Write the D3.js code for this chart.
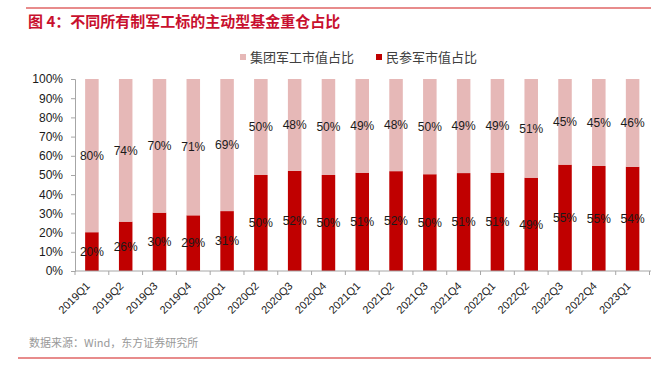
<!DOCTYPE html>
<html>
<head>
<meta charset="utf-8">
<script src="https://cdn.jsdelivr.net/npm/d3@7"></script>
<style>
  body { margin: 0; background: #fff; }
  svg { display: block; font-family: "Liberation Sans", Arial, "Noto Sans CJK SC", sans-serif; }
</style>
</head>
<body>
<svg id="chart" width="651" height="369"></svg>
<script>
// quarters
const quarters = ['2019Q1', '2019Q2', '2019Q3', '2019Q4', '2020Q1', '2020Q2', '2020Q3', '2020Q4',
    '2021Q1', '2021Q2', '2021Q3', '2021Q4', '2022Q1', '2022Q2', '2022Q3', '2022Q4', '2023Q1'];
// 民参军市值占比 (%)
const civilShare = [20.2, 25.7, 30.4, 29.0, 31.2, 50.0, 52.2, 50.0, 51.2, 52.0, 50.4, 51.0, 51.2, 48.6, 55.4, 54.7, 54.3];
// 集团军工市值占比 (%)
const groupShare = [79.8, 74.3, 69.6, 71.0, 68.8, 50.0, 47.8, 50.0, 48.8, 48.0, 49.6, 49.0, 48.8, 51.4, 44.6, 45.3, 45.7];
const yTicks = [0, 10, 20, 30, 40, 50, 60, 70, 80, 90, 100];

const seriesNames = ['集团军工市值占比', '民参军市值占比'];
const seriesColors = ['#e6b8b7', '#c00000'];

const svg = d3.select('#chart');
const margin = { top: 79, right: 1.5, bottom: 98, left: 75 };
const width = 651, height = 369;

const x = d3.scaleBand()
    .domain(quarters)
    .range([margin.left, width - margin.right])
    .paddingInner(0.6)
    .paddingOuter(0.3);

const y = d3.scaleLinear()
    .domain([0, 100])
    .range([height - margin.bottom, margin.top]);

// top rule + title
svg.append('line')
    .attr('x1', 26).attr('x2', 651).attr('y1', 8).attr('y2', 8)
    .style('stroke', '#e06666').style('stroke-width', 1.5);

svg.append('text')
    .attr('x', 28).attr('y', 27)
    .style('font-size', '15px').style('font-weight', 'bold')
    .style('font-family', '"Noto Sans CJK SC", sans-serif')
    .style('fill', '#c8102e')
    .text('图 4：不同所有制军工标的主动型基金重仓占比');

// legend
const legend = svg.append('g').attr('class', 'legend');
const legendX = [240, 376];
seriesNames.forEach((name, i) => {
    legend.append('rect')
        .attr('x', legendX[i]).attr('y', 54)
        .attr('width', 6).attr('height', 6)
        .style('fill', seriesColors[i]);
    legend.append('text')
        .attr('x', legendX[i] + 10).attr('y', 57)
        .attr('dy', '0.35em')
        .style('font-size', '13px')
        .style('font-family', '"Noto Sans CJK SC", sans-serif')
        .style('fill', '#404040')
        .text(name);
});

// bars
const data = quarters.map((q, i) => ({ q, civil: civilShare[i], group: groupShare[i] }));

const bars = svg.append('g').selectAll('g.bar')
    .data(data)
    .enter()
    .append('g')
    .attr('class', 'bar');

bars.append('rect')
    .attr('x', d => x(d.q))
    .attr('width', x.bandwidth())
    .attr('y', d => y(d.civil))
    .attr('height', d => y(0) - y(d.civil))
    .style('fill', seriesColors[1]);

bars.append('rect')
    .attr('x', d => x(d.q))
    .attr('width', x.bandwidth())
    .attr('y', d => y(d.civil + d.group))
    .attr('height', d => y(d.civil) - y(d.civil + d.group))
    .style('fill', seriesColors[0]);

// value labels
bars.append('text')
    .attr('x', d => x(d.q) + x.bandwidth() / 2)
    .attr('y', d => y(d.civil / 2))
    .attr('dy', '0.35em')
    .attr('text-anchor', 'middle')
    .style('font-size', '12px')
    .style('fill', '#1a1a1a')
    .text(d => Math.round(d.civil) + '%');

bars.append('text')
    .attr('x', d => x(d.q) + x.bandwidth() / 2)
    .attr('y', d => y(d.civil + d.group / 2))
    .attr('dy', '0.35em')
    .attr('text-anchor', 'middle')
    .style('font-size', '12px')
    .style('fill', '#1a1a1a')
    .text(d => Math.round(d.group) + '%');

// y axis
const yAxis = svg.append('g')
    .attr('transform', `translate(${margin.left},0)`)
    .call(d3.axisLeft(y).tickValues(yTicks).tickFormat(d => d + '%').tickSize(4).tickPadding(8));
yAxis.select('.domain').style('stroke', '#a6a6a6');
yAxis.selectAll('.tick line').style('stroke', '#a6a6a6');
yAxis.selectAll('.tick text')
    .style('font-size', '12px')
    .style('font-family', '"Liberation Sans", Arial, sans-serif')
    .style('fill', '#1a1a1a');

// x axis: line with ticks on category boundaries
const xAxis = svg.append('g');
xAxis.append('line')
    .attr('x1', margin.left).attr('x2', width)
    .attr('y1', y(0)).attr('y2', y(0))
    .style('stroke', '#a6a6a6');
const step = x.step();
xAxis.selectAll('line.tick')
    .data(d3.range(quarters.length + 1))
    .enter()
    .append('line')
    .attr('class', 'tick')
    .attr('x1', i => margin.left + i * step)
    .attr('x2', i => margin.left + i * step)
    .attr('y1', y(0)).attr('y2', y(0) + 4)
    .style('stroke', '#a6a6a6');

xAxis.selectAll('text')
    .data(quarters)
    .enter()
    .append('text')
    .attr('transform', d => `translate(${x(d) + x.bandwidth() / 2 - 4},${y(0) + 13}) rotate(-45)`)
    .attr('text-anchor', 'end')
    .attr('dy', '0.35em')
    .style('font-size', '11px')
    .style('fill', '#1a1a1a')
    .text(d => d);

// source + bottom rule
svg.append('text')
    .attr('x', 29).attr('y', 343)
    .attr('dy', '0.35em')
    .style('font-size', '11px')
    .style('font-family', '"Noto Sans CJK SC", sans-serif')
    .style('fill', '#999')
    .text('数据来源：Wind，东方证券研究所');

svg.append('line')
    .attr('x1', 18).attr('x2', 651).attr('y1', 358).attr('y2', 358)
    .style('stroke', '#e06666').style('stroke-width', 1.5);
</script>
</body>
</html>
